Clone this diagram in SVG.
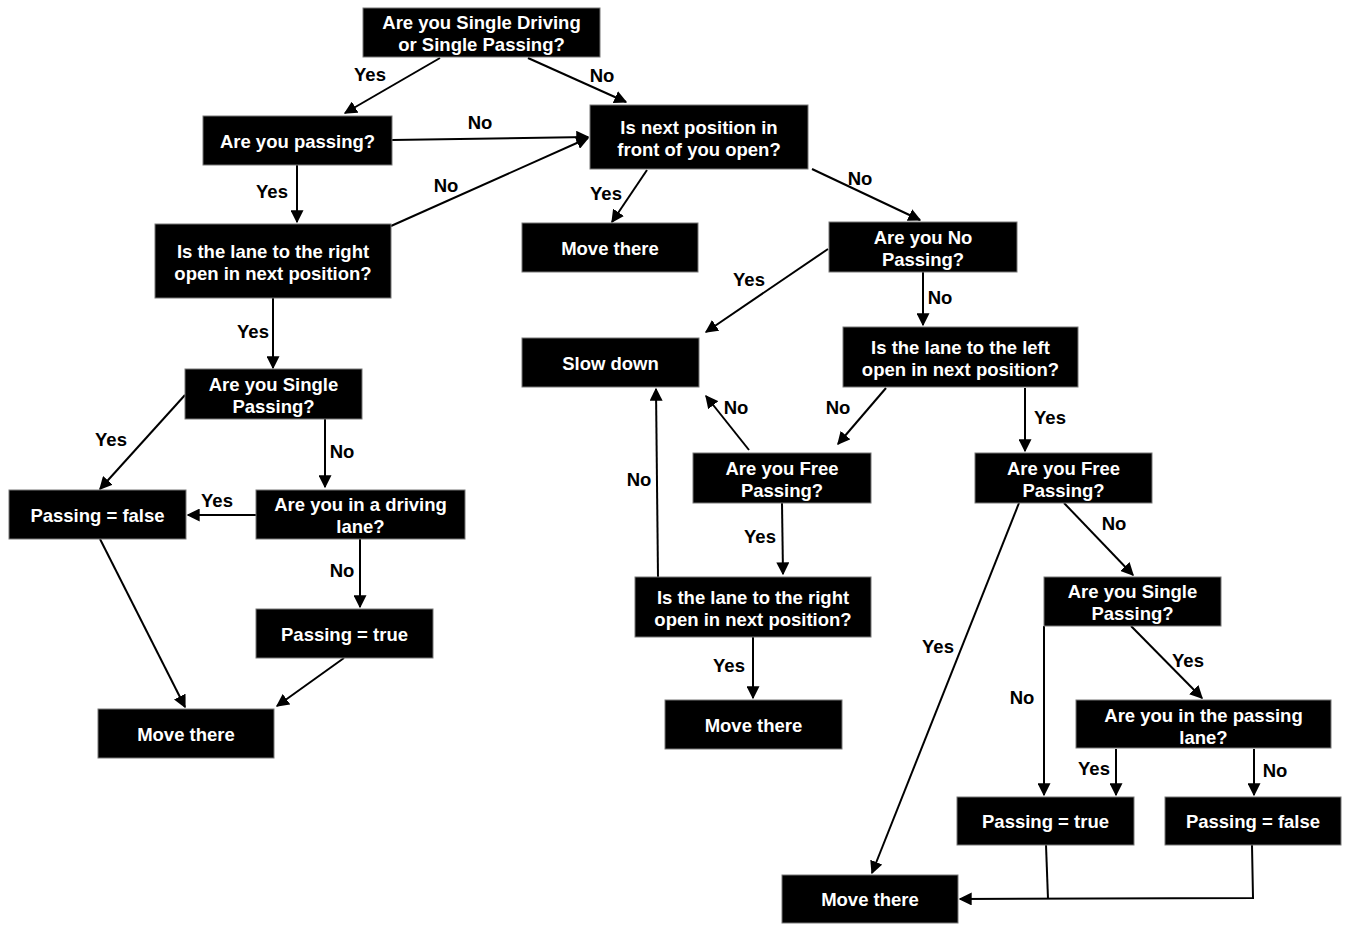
<svg xmlns="http://www.w3.org/2000/svg" width="1351" height="937" viewBox="0 0 1351 937">
<style>
.b{fill:#000;stroke:#777;stroke-width:1}
.t{font-family:"Liberation Sans",Arial,sans-serif;font-weight:bold;font-size:18.5px;fill:#fff;text-anchor:middle}
.l{font-family:"Liberation Sans",Arial,sans-serif;font-weight:bold;font-size:18.5px;fill:#000;text-anchor:middle}
.c{stroke:#000;stroke-width:2;fill:none;marker-end:url(#ah)}
.n{stroke:#000;stroke-width:2;fill:none}
</style>
<defs>
<marker id="ah" viewBox="0 0 10 10" refX="9" refY="5" markerWidth="6.5" markerHeight="6.5" markerUnits="strokeWidth" orient="auto">
<path d="M0,0 L10,5 L0,10 z" fill="#000"/>
</marker>
</defs>
<rect width="1351" height="937" fill="#fff"/>
<g id="connectors">
<line class="c" x1="440" y1="58" x2="345" y2="113"/>
<line class="c" x1="528" y1="58" x2="626" y2="102"/>
<line class="c" x1="392" y1="140" x2="588" y2="137"/>
<line class="c" x1="391" y1="226" x2="588" y2="138"/>
<line class="c" x1="297" y1="165" x2="297" y2="222"/>
<line class="c" x1="647" y1="170" x2="612" y2="222"/>
<line class="c" x1="812" y1="169" x2="920" y2="220"/>
<line class="c" x1="828" y1="249" x2="706" y2="332"/>
<line class="c" x1="923" y1="272" x2="923" y2="325"/>
<line class="c" x1="273" y1="298" x2="273" y2="368"/>
<line class="c" x1="886" y1="388" x2="838" y2="444"/>
<line class="c" x1="1025" y1="388" x2="1025" y2="451"/>
<line class="c" x1="749" y1="450" x2="706" y2="396"/>
<line class="c" x1="185" y1="395" x2="100" y2="489"/>
<line class="c" x1="325" y1="419" x2="325" y2="487"/>
<line class="c" x1="256" y1="515" x2="188" y2="515"/>
<line class="c" x1="360" y1="539" x2="360" y2="607"/>
<line class="c" x1="100" y1="539" x2="185" y2="707"/>
<line class="c" x1="344" y1="658" x2="277" y2="706"/>
<line class="c" x1="782" y1="503" x2="783" y2="574"/>
<line class="c" x1="658" y1="577" x2="656" y2="389"/>
<line class="c" x1="753" y1="637" x2="753" y2="698"/>
<line class="c" x1="1064" y1="503" x2="1133" y2="575"/>
<line class="c" x1="1019" y1="503" x2="872" y2="873"/>
<line class="c" x1="1044" y1="626" x2="1044" y2="795"/>
<line class="c" x1="1131" y1="626" x2="1202" y2="698"/>
<line class="c" x1="1116" y1="749" x2="1116" y2="795"/>
<line class="c" x1="1254" y1="749" x2="1254" y2="795"/>
<line class="n" x1="1046" y1="845" x2="1048" y2="899"/>
<polyline class="c" points="1252,845 1253,898 960,899"/>
</g>
<g id="labels">
<text class="l" x="370" y="81">Yes</text>
<text class="l" x="602" y="82">No</text>
<text class="l" x="480" y="129">No</text>
<text class="l" x="446" y="192">No</text>
<text class="l" x="272" y="198">Yes</text>
<text class="l" x="606" y="200">Yes</text>
<text class="l" x="860" y="185">No</text>
<text class="l" x="749" y="286">Yes</text>
<text class="l" x="940" y="304">No</text>
<text class="l" x="253" y="338">Yes</text>
<text class="l" x="838" y="414">No</text>
<text class="l" x="1050" y="424">Yes</text>
<text class="l" x="736" y="414">No</text>
<text class="l" x="111" y="446">Yes</text>
<text class="l" x="342" y="458">No</text>
<text class="l" x="217" y="507">Yes</text>
<text class="l" x="342" y="577">No</text>
<text class="l" x="760" y="543">Yes</text>
<text class="l" x="639" y="486">No</text>
<text class="l" x="729" y="672">Yes</text>
<text class="l" x="1114" y="530">No</text>
<text class="l" x="938" y="653">Yes</text>
<text class="l" x="1022" y="704">No</text>
<text class="l" x="1188" y="667">Yes</text>
<text class="l" x="1094" y="775">Yes</text>
<text class="l" x="1275" y="777">No</text>
</g>
<g id="n1"><rect class="b" x="363" y="8" width="237" height="49"/><text class="t" x="481.5" y="29">Are you Single Driving</text><text class="t" x="481.5" y="51">or Single Passing?</text></g>
<g id="n2"><rect class="b" x="203" y="116" width="189" height="49"/><text class="t" x="297.5" y="148">Are you passing?</text></g>
<g id="n3"><rect class="b" x="590" y="105" width="218" height="64"/><text class="t" x="699" y="134">Is next position in</text><text class="t" x="699" y="156">front of you open?</text></g>
<g id="n4"><rect class="b" x="522" y="223" width="176" height="49"/><text class="t" x="610" y="255">Move there</text></g>
<g id="n5"><rect class="b" x="155" y="224" width="236" height="74"/><text class="t" x="273" y="258">Is the lane to the right</text><text class="t" x="273" y="280">open in next position?</text></g>
<g id="n6"><rect class="b" x="829" y="222" width="188" height="50"/><text class="t" x="923" y="244">Are you No</text><text class="t" x="923" y="266">Passing?</text></g>
<g id="n7"><rect class="b" x="522" y="338" width="177" height="49"/><text class="t" x="610.5" y="370">Slow down</text></g>
<g id="n8"><rect class="b" x="843" y="327" width="235" height="60"/><text class="t" x="960.5" y="354">Is the lane to the left</text><text class="t" x="960.5" y="376">open in next position?</text></g>
<g id="n9"><rect class="b" x="185" y="369" width="177" height="50"/><text class="t" x="273.5" y="391">Are you Single</text><text class="t" x="273.5" y="413">Passing?</text></g>
<g id="n10"><rect class="b" x="9" y="490" width="177" height="49"/><text class="t" x="97.5" y="522">Passing = false</text></g>
<g id="n11"><rect class="b" x="256" y="490" width="209" height="49"/><text class="t" x="360.5" y="511">Are you in a driving</text><text class="t" x="360.5" y="533">lane?</text></g>
<g id="n12"><rect class="b" x="693" y="453" width="178" height="50"/><text class="t" x="782" y="475">Are you Free</text><text class="t" x="782" y="497">Passing?</text></g>
<g id="n13"><rect class="b" x="975" y="453" width="177" height="50"/><text class="t" x="1063.5" y="475">Are you Free</text><text class="t" x="1063.5" y="497">Passing?</text></g>
<g id="n14"><rect class="b" x="256" y="609" width="177" height="49"/><text class="t" x="344.5" y="641">Passing = true</text></g>
<g id="n15"><rect class="b" x="635" y="577" width="236" height="60"/><text class="t" x="753" y="604">Is the lane to the right</text><text class="t" x="753" y="626">open in next position?</text></g>
<g id="n16"><rect class="b" x="1044" y="577" width="177" height="49"/><text class="t" x="1132.5" y="598">Are you Single</text><text class="t" x="1132.5" y="620">Passing?</text></g>
<g id="n17"><rect class="b" x="98" y="709" width="176" height="49"/><text class="t" x="186" y="741">Move there</text></g>
<g id="n18"><rect class="b" x="665" y="700" width="177" height="49"/><text class="t" x="753.5" y="732">Move there</text></g>
<g id="n19"><rect class="b" x="1076" y="700" width="255" height="48"/><text class="t" x="1203.5" y="722">Are you in the passing</text><text class="t" x="1203.5" y="744">lane?</text></g>
<g id="n20"><rect class="b" x="957" y="797" width="177" height="48"/><text class="t" x="1045.5" y="828">Passing = true</text></g>
<g id="n21"><rect class="b" x="1165" y="797" width="176" height="48"/><text class="t" x="1253" y="828">Passing = false</text></g>
<g id="n22"><rect class="b" x="782" y="875" width="176" height="48"/><text class="t" x="870" y="906">Move there</text></g>
</svg>
